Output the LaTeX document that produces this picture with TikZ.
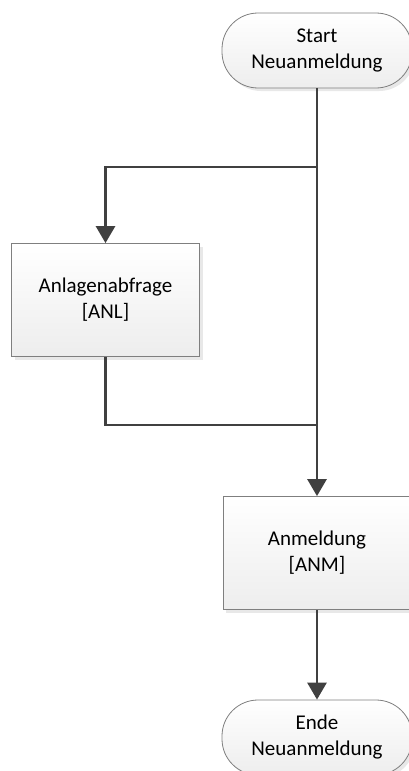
\documentclass[tikz,border=0pt]{standalone}
\usepackage{fontspec}
\setmainfont{Carlito}
\usepackage{tikz}
\usetikzlibrary{arrows.meta, positioning, shadows, calc}
\definecolor{linegray}{HTML}{404040}
\definecolor{framegray}{HTML}{7F7F7F}
\tikzset{
  terminal/.style={
    rectangle, rounded corners=36pt, minimum width=190pt, minimum height=75pt,
    align=center, draw=framegray, line width=0.8pt,
    top color=white, bottom color=gray!14,
    drop shadow={shadow xshift=3pt,shadow yshift=-3pt,opacity=0.18}
  },
  process/.style={
    rectangle, minimum width=188pt, minimum height=113pt,
    align=center, draw=framegray, line width=0.8pt,
    top color=white, bottom color=gray!14,
    drop shadow={shadow xshift=3pt,shadow yshift=-3pt,opacity=0.18}
  },
  flowline/.style={line width=2.8pt, color=linegray},
  flowarrow/.style={flowline, -{Triangle[width=19pt,length=17pt]}}
}

\begin{document}
\begin{tikzpicture}[x=1pt, y=-1pt, font=\fontsize{21}{26}\selectfont]
\useasboundingbox (0,0) rectangle (409,771);
\clip (0,0) rectangle (409,771);
% nodes
\node[terminal] (start) at (317,50.5) {Start\\Neuanmeldung};
\node[process] (anl) at (105.5,300) {Anlagenabfrage\\{[ANL]}};
\node[process] (anm) at (317,553) {Anmeldung\\{[ANM]}};
\node[terminal] (ende) at (317,737.5) {Ende\\Neuanmeldung};
\coordinate (split) at (317,167);
\coordinate (join) at (317,425);
% connectors
\draw[flowarrow] (start) -- (anm);
\draw[flowarrow] (split) -| (anl);
\draw[flowline] (anl) |- (join);
\draw[flowarrow] (anm) -- (ende);
\end{tikzpicture}
\end{document}
